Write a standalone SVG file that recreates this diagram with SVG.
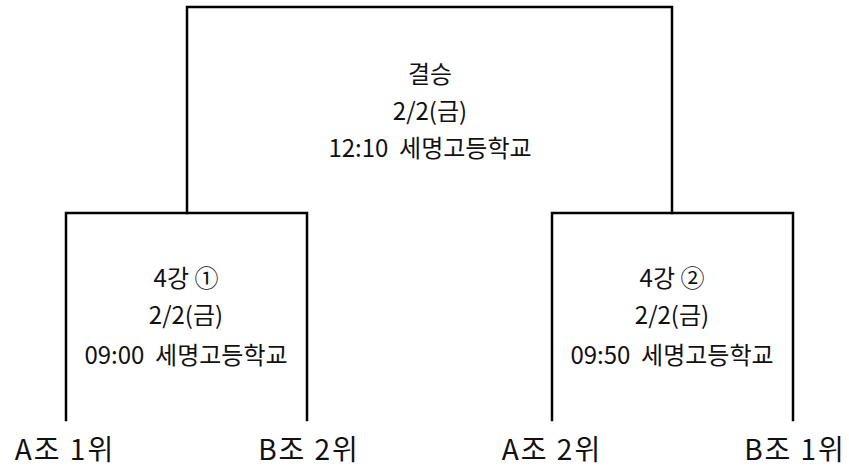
<svg xmlns="http://www.w3.org/2000/svg" width="849" height="472" viewBox="0 0 849 472">
<style>
.line{fill:none;stroke:#000;stroke-width:2.5;stroke-linecap:square;stroke-linejoin:miter}
.t{font-family:"Noto Sans CJK KR","Noto Sans",sans-serif;fill:#111;text-anchor:middle;white-space:pre}
.m{font-size:24px}
.b{font-size:28px;letter-spacing:2px}
</style>
<rect width="849" height="472" fill="#fff"/>
<g id="connectors">
<path class="line" d="M187,213 V7 H672 V213"/>
<path class="line" d="M66,420 V213 H307 V420"/>
<path class="line" d="M552,420 V213 H793 V420"/>
</g>
<g id="final">
<text class="t m" x="430" y="83">결승</text>
<text class="t m" x="430" y="120">2/2(금)</text>
<text class="t m" x="430" y="157" xml:space="preserve">12:10  세명고등학교</text>
</g>
<g id="semi1">
<text class="t m" x="186" y="287" xml:space="preserve">4강 ①</text>
<text class="t m" x="186" y="324">2/2(금)</text>
<text class="t m" x="186" y="364" xml:space="preserve">09:00  세명고등학교</text>
</g>
<g id="semi2">
<text class="t m" x="672" y="287" xml:space="preserve">4강 ②</text>
<text class="t m" x="672" y="324">2/2(금)</text>
<text class="t m" x="672" y="364" xml:space="preserve">09:50  세명고등학교</text>
</g>
<g id="teamA1"><text class="t b" x="65" y="460" xml:space="preserve">A조 1위</text></g>
<g id="teamB2"><text class="t b" x="309" y="460" xml:space="preserve">B조 2위</text></g>
<g id="teamA2"><text class="t b" x="552" y="460" xml:space="preserve">A조 2위</text></g>
<g id="teamB1"><text class="t b" x="795" y="460" xml:space="preserve">B조 1위</text></g>
</svg>
